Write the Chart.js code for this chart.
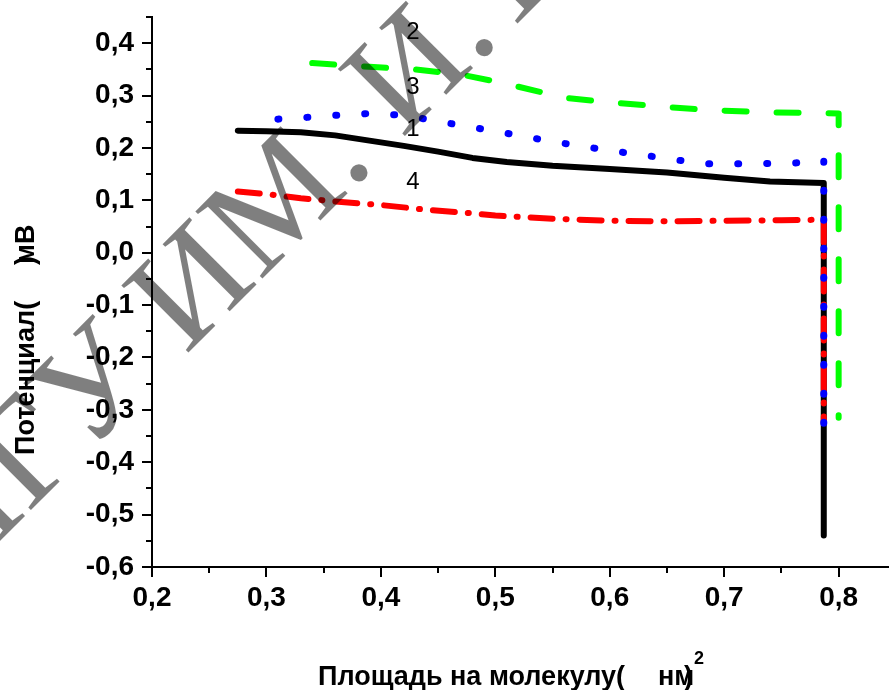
<!DOCTYPE html>
<html>
<head>
<meta charset="utf-8">
<script src="https://cdn.jsdelivr.net/npm/chart.js@4/dist/chart.umd.min.js"></script>
<style>
  html, body { margin: 0; padding: 0; background: #fff; }
  #wrap { width: 889px; height: 690px; position: relative; }
</style>
</head>
<body>
<div id="wrap"><canvas id="c"></canvas></div>
<script>
// ---- Data ----
const curve1X = [0.275, 0.30, 0.33, 0.36, 0.39, 0.42, 0.45, 0.48, 0.51, 0.55, 0.60, 0.65, 0.70, 0.74, 0.787, 0.787];
const curve1Y = [0.233, 0.232, 0.230, 0.224, 0.214, 0.204, 0.193, 0.181, 0.173, 0.166, 0.160, 0.153, 0.143, 0.136, 0.133, -0.54];

const curve2X = [0.34, 0.39, 0.43, 0.47, 0.50, 0.52, 0.56, 0.60, 0.65, 0.69, 0.74, 0.80, 0.80];
const curve2Y = [0.362, 0.355, 0.350, 0.340, 0.327, 0.317, 0.296, 0.287, 0.278, 0.272, 0.268, 0.266, -0.315];

const curve3X = [0.31, 0.34, 0.37, 0.395, 0.42, 0.445, 0.47, 0.50, 0.55, 0.60, 0.65, 0.68, 0.72, 0.76, 0.787, 0.787];
const curve3Y = [0.255, 0.259, 0.264, 0.266, 0.262, 0.253, 0.243, 0.232, 0.212, 0.195, 0.180, 0.170, 0.170, 0.171, 0.176, -0.35];

const curve4X = [0.275, 0.30, 0.33, 0.36, 0.40, 0.44, 0.47, 0.50, 0.55, 0.60, 0.65, 0.70, 0.75, 0.787, 0.787];
const curve4Y = [0.117, 0.112, 0.104, 0.098, 0.091, 0.082, 0.077, 0.071, 0.065, 0.061, 0.060, 0.061, 0.062, 0.063, -0.325];

const xTickValues = [0.2, 0.3, 0.4, 0.5, 0.6, 0.7, 0.8];
const yTickValues = [-0.6, -0.5, -0.4, -0.3, -0.2, -0.1, 0.0, 0.1, 0.2, 0.3, 0.4];
const xMinorTicks = [0.25, 0.35, 0.45, 0.55, 0.65, 0.75];
const yMinorTicks = [-0.55, -0.45, -0.35, -0.25, -0.15, -0.05, 0.05, 0.15, 0.25, 0.35, 0.45];

const curveNames = ["1", "2", "3", "4"];
const curveLabelX = [0.428, 0.428, 0.428, 0.428];
const curveLabelY = [0.236, 0.421, 0.316, 0.134];

const xTitle = "Площадь на молекулу(";
const xTitleUnit = "нм";
const yTitle = "Потенциал(";
const yTitleUnit = "мВ";
const watermark = "ПГУ ИМ. И.Т.";

// ---- helpers ----
const toPts = (xs, ys) => xs.map((x, i) => ({ x: x, y: ys[i] }));
const fmt = v => (Math.round(v * 10) / 10).toFixed(1).replace('.', ',');

const tickFont = { family: "'Liberation Sans', Arial, sans-serif", size: 28, weight: 'bold' };

const decorPlugin = {
  id: 'decor',
  afterDraw(chart) {
    const ctx = chart.ctx;
    const xs = chart.scales.x, ys = chart.scales.y;
    const area = chart.chartArea;
    ctx.save();
    // minor ticks
    ctx.strokeStyle = '#000';
    ctx.lineWidth = 2;
    yMinorTicks.forEach(v => {
      const p = Math.round(ys.getPixelForValue(v));
      ctx.beginPath(); ctx.moveTo(area.left - 6, p); ctx.lineTo(area.left, p); ctx.stroke();
    });
    xMinorTicks.forEach(v => {
      const p = Math.round(xs.getPixelForValue(v));
      ctx.beginPath(); ctx.moveTo(p, area.bottom); ctx.lineTo(p, area.bottom + 6); ctx.stroke();
    });
    // watermark (semi-transparent, over the data)
    ctx.save();
    ctx.translate(-46, 587);
    ctx.rotate(-Math.PI / 4);
    ctx.fillStyle = 'rgba(0,0,0,0.5)';
    ctx.font = "145px 'Liberation Serif', 'DejaVu Serif', serif";
    ctx.textBaseline = 'alphabetic';
    ctx.fillText(watermark, 0, 0);
    ctx.restore();
    // curve labels
    ctx.fillStyle = '#000';
    ctx.font = "24px 'Liberation Sans', Arial, sans-serif";
    ctx.textAlign = 'center';
    ctx.textBaseline = 'middle';
    curveNames.forEach((n, i) => {
      ctx.fillText(n, xs.getPixelForValue(curveLabelX[i]), ys.getPixelForValue(curveLabelY[i]));
    });
    // x title
    ctx.textAlign = 'left';
    ctx.textBaseline = 'alphabetic';
    ctx.font = "bold 27px 'Liberation Sans', Arial, sans-serif";
    ctx.fillText(xTitle, 318, 685);
    ctx.fillText(xTitleUnit, 658, 685);
    ctx.fillText(')', 684, 685);
    ctx.font = "bold 18px 'Liberation Sans', Arial, sans-serif";
    ctx.fillText('2', 694, 664);
    // y title
    ctx.save();
    ctx.translate(34, 455);
    ctx.rotate(-Math.PI / 2);
    ctx.font = "bold 27px 'Liberation Sans', Arial, sans-serif";
    ctx.fillText(yTitle, 0, 0);
    ctx.fillText(yTitleUnit, 191, 0);
    ctx.fillText(')', 190, 0);
    ctx.restore();
    ctx.restore();
  }
};

new Chart(document.getElementById('c'), {
  type: 'scatter',
  data: {
    datasets: [
      { label: '1', data: toPts(curve1X, curve1Y), showLine: true, borderColor: '#000000', borderWidth: 6,
        pointRadius: 0, borderCapStyle: 'round', borderJoinStyle: 'round', order: 3 },
      { label: '2', data: toPts(curve2X, curve2Y), showLine: true, borderColor: '#00ff00', borderWidth: 6,
        pointRadius: 0, borderDash: [22, 30], borderCapStyle: 'round', borderJoinStyle: 'round', order: 2 },
      { label: '3', data: toPts(curve3X, curve3Y), showLine: true, borderColor: '#0000ff', borderWidth: 7,
        pointRadius: 0, borderDash: [1, 28], borderCapStyle: 'round', borderJoinStyle: 'round', order: 0 },
      { label: '4', data: toPts(curve4X, curve4Y), showLine: true, borderColor: '#ff0000', borderWidth: 6,
        pointRadius: 0, borderDash: [22, 13, 1, 13], borderCapStyle: 'round', borderJoinStyle: 'round', order: 1 }
    ]
  },
  options: {
    responsive: true,
    maintainAspectRatio: false,
    animation: false,
    layout: { padding: { top: 17, right: 0, left: 0, bottom: 0 } },
    plugins: { legend: { display: false }, tooltip: { enabled: false } },
    scales: {
      x: {
        type: 'linear', min: 0.2, max: 0.844,
        afterBuildTicks: s => { s.ticks = xTickValues.map(v => ({ value: v })); },
        afterFit: s => { s.height = 123; s.paddingLeft = 0; s.paddingRight = 0; },
        border: { display: true, color: '#000', width: 2 },
        grid: { drawOnChartArea: false, drawTicks: true, tickLength: 10, color: '#000', lineWidth: 2 },
        ticks: { color: '#000', font: tickFont, padding: 4, maxRotation: 0, autoSkip: false, callback: v => fmt(v) }
      },
      y: {
        type: 'linear', min: -0.6, max: 0.45,
        afterBuildTicks: s => { s.ticks = yTickValues.map(v => ({ value: v })); },
        afterFit: s => { s.width = 152; s.paddingTop = 0; s.paddingBottom = 0; },
        border: { display: true, color: '#000', width: 2 },
        grid: { drawOnChartArea: false, drawTicks: true, tickLength: 10, color: '#000', lineWidth: 2 },
        ticks: { color: '#000', font: tickFont, padding: 8, autoSkip: false, callback: v => fmt(v) }
      }
    }
  },
  plugins: [decorPlugin]
});
</script>
</body>
</html>
